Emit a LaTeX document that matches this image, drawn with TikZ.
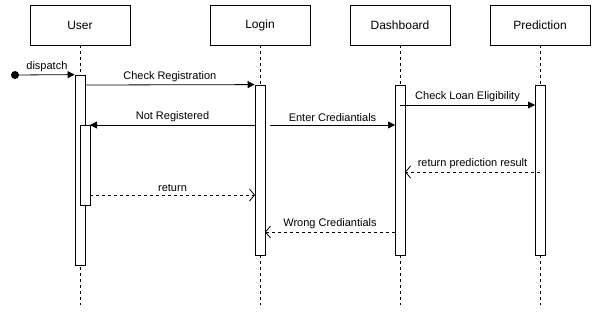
\documentclass[tikz,border=0pt]{standalone}
\usepackage{fontspec}
\setmainfont{Liberation Sans}
\usetikzlibrary{arrows,arrows.meta}

\begin{document}
\begin{tikzpicture}[x=1pt,y=-1pt,
head/.style={draw,line width=0.8pt,minimum width=100pt,minimum height=40pt,font=\fontsize{12}{14}\selectfont},
bar/.style={draw,fill=white,line width=0.8pt,minimum width=10pt,inner sep=0pt},
life/.style={dashed,line width=0.8pt},
msg/.style={-{Triangle[length=7pt,width=7pt]},line width=0.8pt},
reply/.style={dashed,-{Straight Barb[length=5pt,width=12pt]},line width=0.8pt},
msglabel/.style={font=\fontsize{11}{13}\selectfont,inner sep=1pt,above=2pt}]

\useasboundingbox (0,0) rectangle (596,311);

% participants
\node[head](user) at (80,25) {User};
\node[head](login) at (260,25) {Login};
\node[head](dash) at (400,25) {Dashboard};
\node[head](pred) at (540,25) {Prediction};

% lifelines
\coordinate (userEnd) at (80,305);
\coordinate (loginEnd) at (260,305);
\coordinate (dashEnd) at (400,305);
\coordinate (predEnd) at (540,305);
\draw[life] (user) -- (userEnd);
\draw[life] (login) -- (loginEnd);
\draw[life] (dash) -- (dashEnd);
\draw[life] (pred) -- (predEnd);

% activation bars
\node[bar,minimum height=190pt](userBar) at (80,170) {};
\node[bar,minimum height=80pt](userBar2) at (85,165) {};
\node[bar,minimum height=170pt](loginBar) at (260,170) {};
\node[bar,minimum height=170pt](dashBar) at (400,170) {};
\node[bar,minimum height=170pt](predBar) at (540,170) {};

% message end points
\node[circle,fill,inner sep=0pt,minimum size=8pt](start) at (15,75) {};
\coordinate (m1a) at (85,85);
\coordinate (m2a) at (255,125);
\coordinate (m2b) at (90,125);
\coordinate (m3a) at (270,125);
\coordinate (m3b) at (395,125);
\coordinate (m4a) at (400,105);
\coordinate (m4b) at (535,105);
\coordinate (m5a) at (540,172);
\coordinate (m5b) at (405,172);
\coordinate (m6a) at (90,195);
\coordinate (m6b) at (255,195);
\coordinate (m7a) at (395,232);
\coordinate (m7b) at (265,232);

% messages
\draw[msg] (start) -- node[msglabel] {dispatch} (userBar.north west);
\draw[msg] (m1a) -- node[msglabel] {Check Registration} (loginBar.north west);
\draw[msg] (m2a) -- node[msglabel] {Not Registered} (m2b);
\draw[msg] (m3a) -- node[msglabel] {Enter Crediantials} (m3b);
\draw[msg] (m4a) -- node[msglabel] {Check Loan Eligibility} (m4b);
\draw[reply] (m5a) -- node[msglabel] {return prediction result} (m5b);
\draw[reply] (m6a) -- node[msglabel] {return} (m6b);
\draw[reply] (m7a) -- node[msglabel] {Wrong Crediantials} (m7b);
\end{tikzpicture}
\end{document}
